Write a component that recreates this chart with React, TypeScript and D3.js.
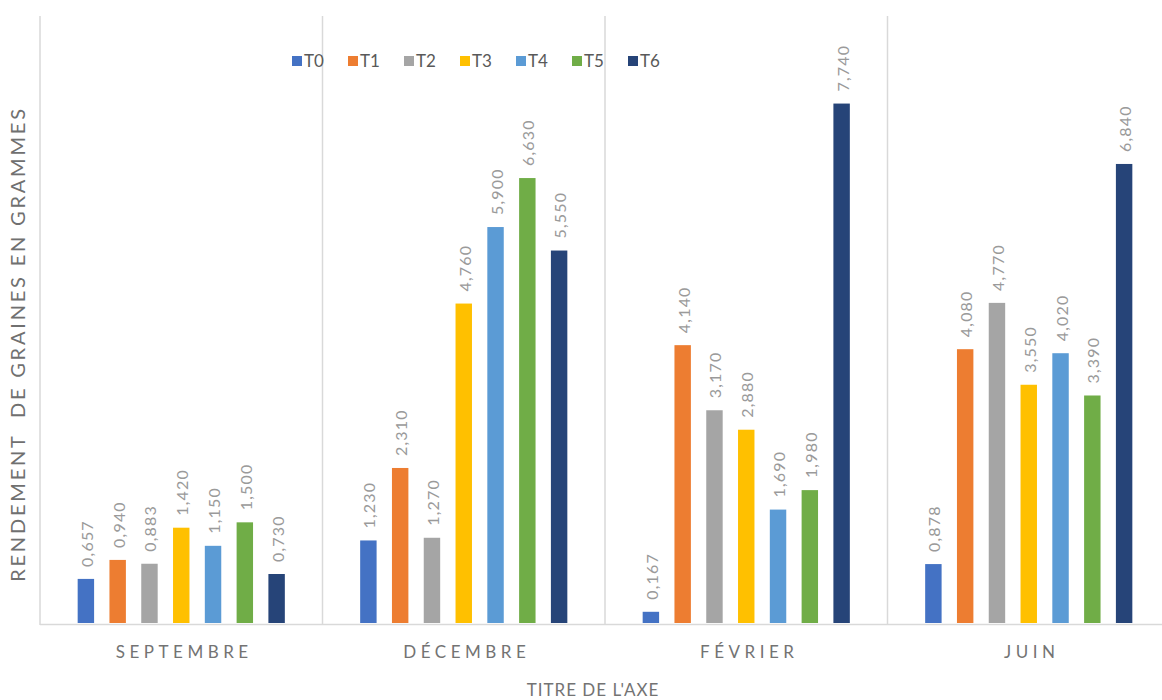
import { useEffect, useRef } from "react";
import * as d3 from "d3";

const months = ["SEPTEMBRE", "DÉCEMBRE", "FÉVRIER", "JUIN"];
const series = ["T0", "T1", "T2", "T3", "T4", "T5", "T6"];
const colors = ["#4472C4", "#ED7D31", "#A5A5A5", "#FFC000", "#5B9BD5", "#70AD47", "#264478"];

const t0 = [0.657, 1.23, 0.167, 0.878];
const t1 = [0.94, 2.31, 4.14, 4.08];
const t2 = [0.883, 1.27, 3.17, 4.77];
const t3 = [1.42, 4.76, 2.88, 3.55];
const t4 = [1.15, 5.9, 1.69, 4.02];
const t5 = [1.5, 6.63, 1.98, 3.39];
const t6 = [0.73, 5.55, 7.74, 6.84];
const values = [t0, t1, t2, t3, t4, t5, t6];

export default function App() {
  const svgRef = useRef<SVGSVGElement>(null);

  useEffect(() => {
    if (!svgRef.current) return;
    const svg = d3.select(svgRef.current);
    svg.selectAll("*").remove();

    const left = 40;
    const base = 623;
    const top = 16;

    const x = d3.scaleBand().domain(months).range([left, left + 4 * 282.5]).padding(0);
    const xs = d3
      .scaleBand()
      .domain(series)
      .range([0, x.bandwidth()])
      .paddingInner(0.483)
      .paddingOuter(1.185);
    const y = d3.scaleLinear().domain([0, 9]).range([base, 19]);

    svg.append("rect").attr("width", 1162).attr("height", 700).attr("fill", "#fff");

    // category separators
    svg
      .selectAll("line.sep")
      .data(months)
      .enter()
      .append("line")
      .attr("x1", (d) => x(d) ?? 0)
      .attr("x2", (d) => x(d) ?? 0)
      .attr("y1", top)
      .attr("y2", base + 2)
      .attr("stroke", "#d9d9d9")
      .attr("stroke-width", 1.5);

    svg
      .append("line")
      .attr("x1", left)
      .attr("x2", 1162)
      .attr("y1", base + 1.5)
      .attr("y2", base + 1.5)
      .attr("stroke", "#d9d9d9")
      .attr("stroke-width", 1.5);

    const flat = months.flatMap((m, i) =>
      series.map((s, j) => ({ m, s, v: values[j][i], c: colors[j] }))
    );

    const bx = (d: { m: string; s: string }) => (x(d.m) ?? 0) + (xs(d.s) ?? 0);

    svg
      .selectAll("rect.bar")
      .data(flat)
      .enter()
      .append("rect")
      .attr("class", "bar")
      .attr("x", bx)
      .attr("y", (d) => y(d.v))
      .attr("width", xs.bandwidth())
      .attr("height", (d) => base - y(d.v))
      .attr("fill", (d) => d.c);

    svg
      .selectAll("text.val")
      .data(flat)
      .enter()
      .append("text")
      .attr("class", "val")
      .attr(
        "transform",
        (d) => `translate(${bx(d) + xs.bandwidth() / 2 + 7},${y(d.v) - 12}) rotate(-90)`
      )
      .attr("fill", "#9a9a9a")
      .attr("font-size", "16px")
      .attr("letter-spacing", "1.2px")
      .attr("font-family", "Lato, sans-serif")
      .text((d) => d.v.toFixed(3).replace(".", ","));

    // category labels
    svg
      .selectAll("text.cat")
      .data(months)
      .enter()
      .append("text")
      .attr("x", (d) => (x(d) ?? 0) + x.bandwidth() / 2 + 3)
      .attr("y", 658)
      .attr("text-anchor", "middle")
      .attr("fill", "#737373")
      .attr("font-size", "17px")
      .attr("letter-spacing", "4.5px")
      .attr("font-family", "Lato, sans-serif")
      .text((d) => d);

    svg
      .append("text")
      .attr("x", 593)
      .attr("y", 696)
      .attr("text-anchor", "middle")
      .attr("fill", "#737373")
      .attr("font-size", "17px")
      .attr("letter-spacing", "1px")
      .attr("font-family", "Lato, sans-serif")
      .text("TITRE DE L'AXE");

    svg
      .append("text")
      .attr("transform", "translate(25,344) rotate(-90)")
      .attr("text-anchor", "middle")
      .attr("fill", "#707070")
      .attr("font-size", "20px")
      .attr("letter-spacing", "2.8px")
      .attr("font-family", "Lato, sans-serif")
      .style("white-space", "pre")
      .text("RENDEMENT  DE GRAINES EN GRAMMES");

    // legend
    const lg = svg
      .selectAll("g.leg")
      .data(series)
      .enter()
      .append("g")
      .attr("transform", (_, i) => `translate(${292 + i * 56},56)`);
    lg.append("rect")
      .attr("width", 10)
      .attr("height", 10)
      .attr("fill", (_, i) => colors[i]);
    lg.append("text")
      .attr("x", 12)
      .attr("y", 11)
      .attr("fill", "#595959")
      .attr("font-size", "17px")
      .attr("font-family", "Lato, sans-serif")
      .text((d) => d);
  }, []);

  return (
    <svg
      ref={svgRef}
      width={1162}
      height={700}
      style={{ position: "absolute", left: 0, top: 0 }}
    />
  );
}
